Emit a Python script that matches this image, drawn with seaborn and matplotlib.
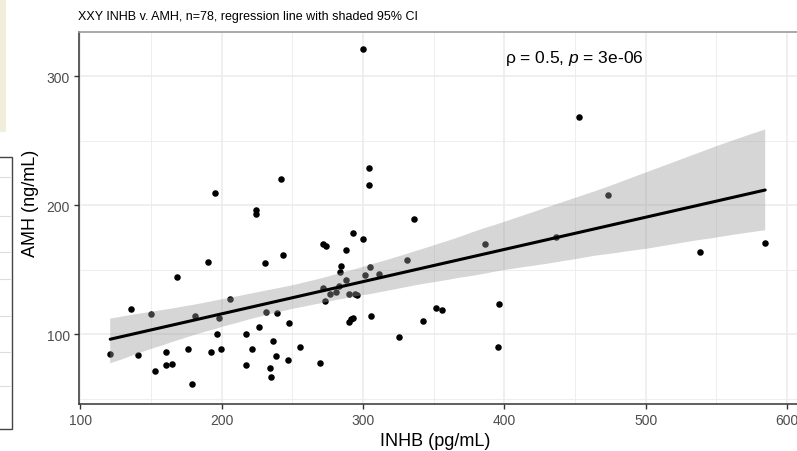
import matplotlib
matplotlib.use("Agg")
import matplotlib.pyplot as plt
from matplotlib.patches import Rectangle
from matplotlib.lines import Line2D
from matplotlib.ticker import MultipleLocator
import pandas as pd
import seaborn as sns

TITLE = "XXY INHB v. AMH, n=78, regression line with shaded 95% CI"
X_LABEL = "INHB (pg/mL)"
Y_LABEL = "AMH (ng/mL)"

inhb = [
    121.1, 135.7, 140.9, 149.9, 152.7, 160.3, 160.3, 164.8, 168.5, 176.3,
    179.1, 181.0, 190.4, 192.1, 195.2, 196.8, 198.0, 199.2, 205.8, 216.9,
    217.3, 221.6, 224.0, 224.0, 226.3, 230.8, 231.1, 234.1, 234.6, 236.2,
    238.1, 239.3, 241.7, 243.3, 247.1, 247.6, 255.1, 269.3, 271.8, 273.5,
    271.8, 273.0, 276.4, 280.6, 283.2, 283.7, 284.4, 287.7, 288.1, 289.8,
    290.2, 291.8, 293.2, 292.9, 294.3, 295.9, 299.9, 299.9, 301.1, 304.0,
    304.4, 305.1, 305.8, 311.5, 325.2, 331.1, 336.2, 342.6, 351.8, 355.6,
    386.5, 395.3, 396.4, 436.5, 453.0, 473.5, 538.2, 584.6,
]
amh = [
    84.5, 119.6, 83.7, 116.0, 71.5, 86.0, 76.0, 76.7, 144.7, 88.4,
    61.2, 114.4, 155.8, 86.5, 209.5, 100.0, 112.9, 88.4, 127.4, 100.0,
    76.0, 88.8, 196.1, 193.6, 105.4, 155.5, 117.1, 74.1, 66.9, 94.6,
    82.9, 116.5, 220.4, 161.5, 79.8, 108.8, 90.2, 77.5, 170.0, 168.4,
    136.1, 125.6, 131.0, 132.6, 137.7, 148.1, 152.7, 142.3, 165.3, 131.2,
    109.8, 111.5, 113.0, 178.3, 131.2, 130.5, 174.1, 321.4, 146.0, 228.9,
    216.0, 152.4, 114.0, 146.5, 97.7, 157.6, 189.6, 110.3, 120.2, 119.1,
    169.8, 90.2, 123.5, 175.7, 268.7, 208.2, 163.8, 170.8,
]

df = pd.DataFrame({"INHB": inhb, "AMH": amh})

sns.set_style("white")
plt.rcParams["font.family"] = ["Liberation Sans", "DejaVu Sans"]
plt.rcParams["mathtext.fontset"] = "custom"
plt.rcParams["mathtext.rm"] = "Liberation Sans"
plt.rcParams["mathtext.it"] = "Liberation Sans:italic"

W, H = 797, 452
fig = plt.figure(figsize=(W / 100, H / 100), dpi=100)
ax = fig.add_axes([79 / W, (H - 405) / H, (W - 79) / W, (405 - 33) / H])

sns.scatterplot(data=df, x="INHB", y="AMH", color="black", s=22,
                linewidth=0, ax=ax, zorder=2)
sns.regplot(data=df, x="INHB", y="AMH", scatter=False, ci=95, seed=3,
            color="black", line_kws={"linewidth": 2.2, "zorder": 4}, ax=ax)

# ggplot-like ribbon: grey60 at alpha 0.4, drawn above the points
band = ax.collections[-1]
band.set_facecolor("#999999")
band.set_alpha(0.4)
band.set_edgecolor("none")
band.set_zorder(3)

ax.set_xlim(99.0, 607.1)
ax.set_ylim(46.0, 334.3)
ax.set_xticks([100, 200, 300, 400, 500, 600])
ax.set_yticks([100, 200, 300])
ax.xaxis.set_minor_locator(MultipleLocator(50))
ax.yaxis.set_minor_locator(MultipleLocator(50))

ax.set_axisbelow(True)
ax.grid(which="major", color="#EBEBEB", linewidth=1.1)
ax.grid(which="minor", color="#EBEBEB", linewidth=0.6)

ax.tick_params(which="major", direction="out", length=3.5, width=1,
               color="#333333", labelcolor="#4D4D4D", labelsize=10, pad=3,
               bottom=True, left=True)
ax.tick_params(which="minor", length=0)

ax.spines["right"].set_visible(False)
ax.spines["top"].set_color("#9A9A9A")
ax.spines["top"].set_linewidth(1.2)
for side in ["left", "bottom"]:
    ax.spines[side].set_color("#333333")
    ax.spines[side].set_linewidth(1.1)

ax.set_xlabel(X_LABEL, fontsize=13, color="black")
ax.set_ylabel(Y_LABEL, fontsize=13, color="black")
ax.xaxis.set_label_coords(0.4965, -0.097)
ax.xaxis.label.set_verticalalignment("center")
ax.yaxis.set_label_coords(-0.067, 0.543)
ax.yaxis.label.set_verticalalignment("center")

ax.text(400.5, 314.5, "ρ = 0.5, $\\mathit{p}$ = 3e-06", fontsize=12.5,
        ha="left", va="center", color="black")

fig.text(78 / W, 1 - 17 / H, TITLE, fontsize=9, ha="left", va="center",
         color="black")

# pieces of the surrounding window at the left edge of the screenshot
fig.patches.append(Rectangle((0, 1 - 133 / H), 6 / W, 133 / H,
                             transform=fig.transFigure, facecolor="#F1EEDC",
                             edgecolor="none"))
fig.patches.append(Rectangle((-0.01, 1 - 430 / H), 0.01 + 11.5 / W,
                             (430 - 158) / H, transform=fig.transFigure,
                             facecolor="white", edgecolor="#444444",
                             linewidth=1))
for yy in [178, 217, 253, 280, 317, 353, 387]:
    fig.add_artist(Line2D([0, 11 / W], [1 - yy / H, 1 - yy / H],
                          transform=fig.transFigure, color="#DDDDDD",
                          linewidth=0.8))

fig.savefig("out.png", dpi=100)
